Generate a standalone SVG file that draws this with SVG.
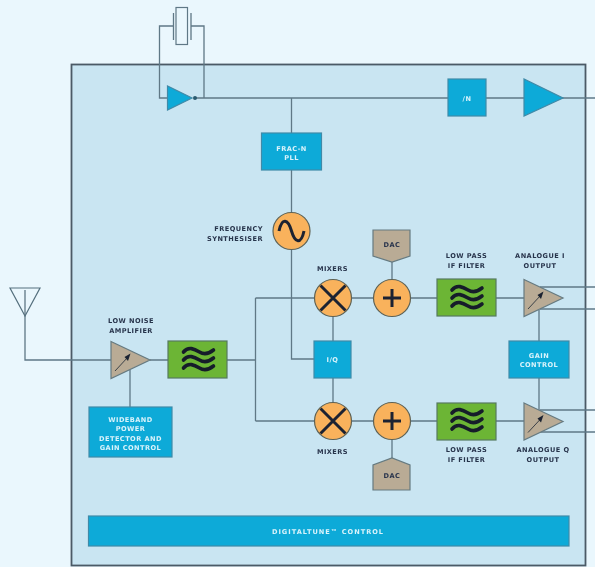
<svg xmlns="http://www.w3.org/2000/svg" width="595" height="567" viewBox="0 0 595 567">
<style>
text{font-family:"DejaVu Sans","Liberation Sans",sans-serif;font-weight:700;font-size:6.600px;letter-spacing:.45px;text-anchor:middle;fill:#28344c}
text.w{fill:#d9f3fb}
.wire{fill:none;stroke:#5f7886;stroke-width:1.300}
.blue{fill:#0eaad8;stroke:#3f8aa8;stroke-width:1.200}
.tan{fill:#b9ab95;stroke:#667a80;stroke-width:1.200}
.green{fill:#6cb535;stroke:#567a60;stroke-width:1.200}
.org{fill:#f9b25c;stroke:#5f6254;stroke-width:1.200}
.sym{fill:none;stroke:#1c2430;stroke-width:3}
.wave{fill:none;stroke:#161e2a;stroke-width:3.600;stroke-linecap:round}
.arrow{fill:none;stroke:#3c4248;stroke-width:1}
</style>
<defs>
<filter id="soft" x="0" y="0" width="100%" height="100%"><feGaussianBlur stdDeviation=".35"/></filter>
<g id="waves">
<path class="wave" d="M-15,-8C-10,-14 -4,-11 1,-8S10,-6 15,-10"/>
<path class="wave" d="M-15,0C-10,-6 -4,-3 1,0S10,2 15,-2"/>
<path class="wave" d="M-15,8C-10,2 -4,5 1,8S10,10 15,6"/>
</g>
<g id="amp">
<path class="tan" d="M0,-18.500L39,0L0,18.500Z"/>
<path class="arrow" d="M4,11L17,-3"/>
<path d="M19.500,-6.500L13.500,-3L17,1Z" fill="#1c2430"/>
</g>
<g id="mix">
<circle class="org" r="18.500"/>
<path class="sym" d="M-12.500,-12.500L12.500,12.500M12.500,-12.500L-12.500,12.500"/>
</g>
<g id="sum">
<circle class="org" r="18.500"/>
<path class="sym" d="M-9,0H9M0,-9V9"/>
</g>
</defs>
<g filter="url(#soft)">
<rect id="page" width="595" height="567" fill="#eaf7fd"/>
<rect id="chip" x="71.500" y="64.500" width="514" height="501" fill="#c9e5f2" stroke="#4b5a66" stroke-width="1.800"/>
<g id="connectors">
<path class="wire" d="M173.500,26H159.500V98H167M191,26H204V98M195,98H595"/>
<path class="wire" d="M291.500,98V359H314"/>
<path class="wire" d="M25,290V360H111M150,360H168M227,360H255.500M255.500,298V421M255.500,298H437M255.500,421H437"/>
<path class="wire" d="M496,298H524M496,421H524M333,316V403M392,262V280M392,440V458"/>
<path class="wire" d="M130,370V407M539,310V410"/>
<path class="wire" d="M540,287H595M540,309H595M540,410H595M540,432H595"/>
</g>
<g id="crystal">
<rect x="176" y="7.500" width="11.500" height="37" fill="#eaf7fd" stroke="#5f7886" stroke-width="1.200"/>
<path class="wire" d="M173.500,13V40M191,13V40"/>
</g>
<g id="antenna"><path d="M10,288H40L25,316Z" fill="none" stroke="#55707e" stroke-width="1.200"/></g>
<g id="buffer">
<path class="blue" d="M167.500,86L167.500,110L192,98Z"/>
<circle cx="195" cy="98" r="2" fill="#2b5a70"/>
</g>
<g id="frac-n"><rect class="blue" x="261.500" y="133" width="60" height="37"/><text class="w" x="291.500" y="150.500">FRAC-N</text><text class="w" x="291.500" y="160">PLL</text></g>
<g id="div-n"><rect class="blue" x="448" y="79" width="38" height="37"/><text class="w" x="467" y="100.500">/N</text></g>
<g id="out-buffer"><path class="blue" d="M524,79L524,116L563,98Z"/></g>
<g id="synth"><circle class="org" cx="291.500" cy="231" r="18.500"/><path class="sym" d="M279,231C282,217 288,219 291.500,231S301,245 304,231"/>
<text x="263" y="231" style="text-anchor:end">FREQUENCY</text><text x="263" y="240.500" style="text-anchor:end">SYNTHESISER</text></g>
<g id="lna"><use href="#amp" x="111" y="360"/><text x="131" y="322.500">LOW NOISE</text><text x="131" y="332.500">AMPLIFIER</text></g>
<g id="rf-filter"><rect class="green" x="168" y="341" width="59" height="37"/><use href="#waves" x="198.500" y="360"/></g>
<g id="wideband"><rect class="blue" x="89" y="407" width="83" height="50"/>
<text class="w" x="130.500" y="421.500">WIDEBAND</text><text class="w" x="130.500" y="431">POWER</text><text class="w" x="130.500" y="440.500">DETECTOR AND</text><text class="w" x="130.500" y="450">GAIN CONTROL</text></g>
<g id="mixer-i"><use href="#mix" x="333" y="298"/><text x="332.500" y="270.500">MIXERS</text></g>
<g id="sum-i"><use href="#sum" x="392" y="298"/></g>
<g id="dac-i"><path class="tan" d="M373,230H410V256L392,262L373,256Z"/><text x="392" y="246.500">DAC</text></g>
<g id="filter-i"><rect class="green" x="437" y="279" width="59" height="37"/><use href="#waves" x="467" y="298"/><text x="466.500" y="257.500">LOW PASS</text><text x="466.500" y="267.500">IF FILTER</text></g>
<g id="amp-i"><use href="#amp" x="524" y="298"/><text x="540" y="257.500">ANALOGUE I</text><text x="540" y="267.500">OUTPUT</text></g>
<g id="iq"><rect class="blue" x="314" y="341" width="37" height="37"/><text class="w" x="332.500" y="361.500">I/Q</text></g>
<g id="gain"><rect class="blue" x="509" y="341" width="60" height="37"/><text class="w" x="539" y="357.500">GAIN</text><text class="w" x="539" y="367">CONTROL</text></g>
<g id="mixer-q"><use href="#mix" x="333" y="421"/><text x="332.500" y="453.500">MIXERS</text></g>
<g id="sum-q"><use href="#sum" x="392" y="421"/></g>
<g id="dac-q"><path class="tan" d="M373,490H410V465L392,458L373,465Z"/><text x="392" y="478">DAC</text></g>
<g id="filter-q"><rect class="green" x="437" y="403" width="59" height="37"/><use href="#waves" x="467" y="421"/><text x="466.500" y="451.500">LOW PASS</text><text x="466.500" y="461.500">IF FILTER</text></g>
<g id="amp-q"><use href="#amp" x="524" y="421.500"/><text x="543" y="451.500">ANALOGUE Q</text><text x="543" y="461.500">OUTPUT</text></g>
<g id="digitaltune"><rect class="blue" x="88.500" y="516" width="480.500" height="30"/><text class="w" x="328" y="533.500" style="letter-spacing:1px">DIGITALTUNE™ CONTROL</text></g>
</g>
</svg>
